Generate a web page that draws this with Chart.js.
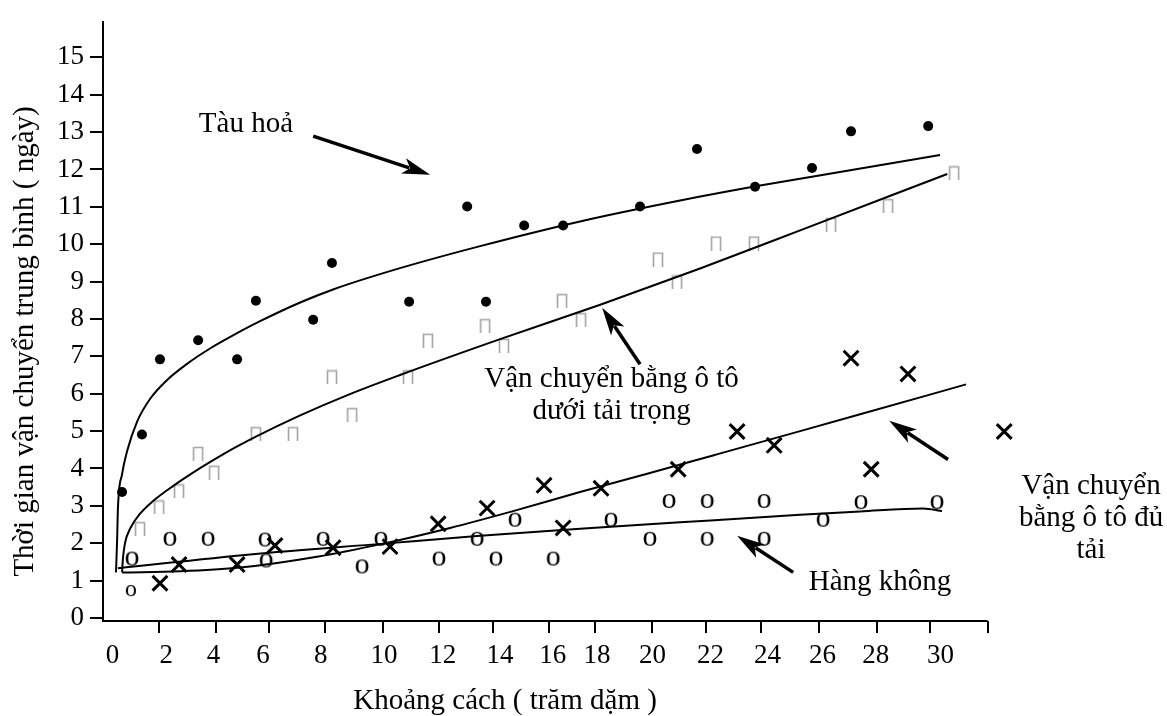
<!DOCTYPE html>
<html>
<head>
<meta charset="utf-8">
<script src="https://cdn.jsdelivr.net/npm/chart.js@4.4.1/dist/chart.umd.min.js"></script>
<style>
  html, body { margin: 0; padding: 0; background: #fff; }
</style>
</head>
<body>
<canvas id="chart" width="1167" height="716"></canvas>
<script>
const serif = '"Liberation Serif", "Times New Roman", serif'

// measured points: [distance (hundred miles), days]
const trainPts = [[0.40,3.37],[1.12,4.91],[1.77,6.92],[3.15,7.43],[4.56,6.92],[5.24,8.49],[7.31,7.98],[7.99,9.50],[10.78,8.46],[12.88,11.01],[13.56,8.46],[14.94,10.50],[16.35,10.50],[19.13,11.01],[21.19,12.55],[23.29,11.54],[25.35,12.04],[26.76,13.02],[29.55,13.16]]
const ltlPts = [[1.05,2.39],[1.74,2.97],[2.46,3.40],[3.15,4.40],[3.73,3.90],[5.24,4.93],[6.58,4.93],[7.99,6.45],[8.72,5.44],[10.74,6.45],[11.46,7.43],[13.53,7.82],[14.21,7.29],[16.31,8.49],[17.00,7.98],[19.78,9.60],[20.47,8.99],[21.88,10.03],[23.25,10.03],[26.04,10.53],[28.10,11.03],[30.49,11.91]]
const tlPts = [[1.77,0.93],[2.46,1.43],[4.56,1.43],[5.93,1.94],[8.03,1.88],[10.09,1.91],[11.83,2.52],[13.60,2.94],[15.66,3.55],[16.35,2.41],[17.72,3.47],[20.51,3.98],[22.64,4.99],[23.98,4.62],[26.76,6.95],[27.49,3.98],[28.82,6.53],[32.30,4.99]]
const airPts = [[0.72,0.72],[0.76,1.59],[2.13,2.12],[3.51,2.12],[5.57,2.10],[5.61,1.54],[7.67,2.12],[9.08,1.38],[9.76,2.12],[11.86,1.59],[13.24,2.12],[13.92,1.59],[14.61,2.63],[15.99,1.59],[18.08,2.63],[19.49,2.12],[20.18,3.13],[21.56,3.13],[21.56,2.12],[23.62,3.13],[23.62,2.12],[25.75,2.63],[27.12,3.10],[29.87,3.10]]

// fitted curves
const trainFit = [[0.18,1.22],[0.22,2.07],[0.25,2.94],[0.40,3.85],[0.58,4.46],[0.94,5.25],[1.41,5.86],[2.03,6.37],[2.75,6.80],[3.58,7.21],[4.41,7.56],[5.39,7.94],[6.84,8.44],[8.03,8.79],[10.45,9.36],[13.35,9.95],[16.96,10.61],[20.58,11.17],[23.47,11.57],[26.73,11.98],[29.98,12.39]]
const ltlFit = [[0.40,1.22],[0.43,1.59],[0.51,2.02],[0.69,2.39],[1.05,2.79],[1.52,3.13],[2.24,3.53],[3.22,4.01],[4.05,4.38],[5.24,4.85],[6.84,5.42],[8.64,5.99],[10.45,6.50],[14.07,7.46],[17.69,8.38],[21.30,9.35],[24.92,10.37],[30.24,11.88]]
const tlFit = [[0.40,1.22],[2.50,1.25],[4.67,1.35],[7.45,1.64],[9.84,1.99],[12.26,2.41],[14.54,2.86],[16.96,3.37],[19.39,3.86],[21.77,4.35],[24.92,5.00],[27.09,5.45],[30.92,6.25]]
const airFit = [[0.25,1.33],[5.03,1.70],[9.84,1.99],[13.35,2.20],[16.96,2.39],[20.58,2.56],[24.92,2.76],[27.09,2.85],[29.37,2.93],[30.05,2.86]]

const yTicks = [0,1,2,3,4,5,6,7,8,9,10,11,12,13,14,15]
const xTickLabels = ['0','2','4','6','8','10','12','14','16','18','20','22','24','26','28','30']
// the printed labels sit a little unevenly along the axis
const xTickAt = [0.05,2.0,3.71,5.5,7.58,9.87,12.0,14.07,15.97,17.57,19.58,21.68,23.74,25.73,27.65,30.0]
const xTickMarks = [1.74,3.8,5.71,7.74,9.84,11.86,13.8,15.84,17.5,19.57,21.5,23.5,25.6,27.7,29.6,31.7]
const xAxisEnd = 31.7

const toXY = pts => pts.map(p => ({ x: p[0], y: p[1] }))

function glyph(w, h, draw) {
  const c = document.createElement('canvas')
  c.width = w; c.height = h
  draw(c.getContext('2d'), w, h)
  return c
}
// grey open box (missing-glyph look)
const boxMark = glyph(12, 15, (g, w, h) => {
  g.strokeStyle = '#a3a3a3'; g.lineWidth = 1.6
  g.beginPath(); g.moveTo(1.5, h); g.lineTo(1.5, 1.5); g.lineTo(w - 1.5, 1.5); g.lineTo(w - 1.5, h); g.stroke()
})
const oMark = (size) => glyph(24, 24, (g, w, h) => {
  g.font = size + 'px ' + serif; g.fillStyle = '#000'
  g.textAlign = 'center'; g.textBaseline = 'alphabetic'
  g.fillText('o', w / 2, h / 2 + size * 0.225)
})
const oBig = oMark(30)
const oSmall = oMark(24)

const fitLine = (pts) => ({
  data: toXY(pts), showLine: true, pointRadius: 0, borderColor: '#000', borderWidth: 2,
  cubicInterpolationMode: 'monotone', fill: false
})

const notes = [
  { text: ['Tàu hoả'], at: [4.88, 13.0] },
  { text: ['Vận chuyển bằng ô tô', 'dưới tải trọng'], at: [18.1, 6.18] },
  { text: ['Vận chuyển', 'bằng ô tô đủ', 'tải'], at: [35.44, 3.32] },
  { text: ['Hàng không'], at: [27.81, 0.74] }
]
const arrows = [
  { from: [7.31, 12.89], to: [11.54, 11.86] },
  { from: [19.13, 6.79], to: [17.76, 8.30] },
  { from: [30.27, 4.24], to: [28.14, 5.28] },
  { from: [24.67, 1.22], to: [22.64, 2.20] }
]

function drawArrow(ctx, x1, y1, x2, y2) {
  const a = Math.atan2(y2 - y1, x2 - x1), len = 28, half = 8
  const c = Math.cos(a), s = Math.sin(a)
  const bx = x2 - len * c, by = y2 - len * s
  ctx.lineWidth = 3.5
  ctx.beginPath(); ctx.moveTo(x1, y1); ctx.lineTo(bx + 6 * c, by + 6 * s); ctx.stroke()
  ctx.beginPath()
  ctx.moveTo(x2, y2)
  ctx.lineTo(bx + half * s, by - half * c)
  ctx.lineTo(bx + 7 * c, by + 7 * s)
  ctx.lineTo(bx - half * s, by + half * c)
  ctx.closePath(); ctx.fill()
}

const annotate = {
  id: 'annotate',
  afterDraw(chart) {
    const { ctx, chartArea, scales: { x, y } } = chart
    ctx.save()
    ctx.strokeStyle = '#000'; ctx.fillStyle = '#000'; ctx.lineCap = 'butt'

    // x axis stops before the right edge of the plot
    ctx.lineWidth = 2
    ctx.beginPath()
    ctx.moveTo(chartArea.left - 1, chartArea.bottom)
    ctx.lineTo(x.getPixelForValue(xAxisEnd), chartArea.bottom)
    ctx.stroke()
    for (const v of xTickMarks) {
      const px = Math.round(x.getPixelForValue(v))
      ctx.beginPath(); ctx.moveTo(px, chartArea.bottom); ctx.lineTo(px, chartArea.bottom + 12); ctx.stroke()
    }

    ctx.font = '29px ' + serif
    ctx.textAlign = 'center'; ctx.textBaseline = 'alphabetic'
    for (const n of notes) {
      const px = x.getPixelForValue(n.at[0]), py = y.getPixelForValue(n.at[1])
      n.text.forEach((t, i) => ctx.fillText(t, px, py + i * 32))
    }
    for (const a of arrows) {
      drawArrow(ctx, x.getPixelForValue(a.from[0]), y.getPixelForValue(a.from[1]),
        x.getPixelForValue(a.to[0]), y.getPixelForValue(a.to[1]))
    }

    // axis titles
    ctx.fillText('Khoảng cách ( trăm dặm )', x.getPixelForValue(14.25), chartArea.bottom + 88)
    ctx.translate(chartArea.left - 70, y.getPixelForValue(7.40))
    ctx.rotate(-Math.PI / 2)
    ctx.fillText('Thời gian vận chuyển trung bình ( ngày)', 0, 0)
    ctx.restore()
  }
}

Chart.defaults.font.family = serif
Chart.defaults.color = '#000'

const chart = new Chart(document.getElementById('chart'), {
  type: 'scatter',
  data: {
    datasets: [
      fitLine(trainFit), fitLine(ltlFit), fitLine(tlFit), fitLine(airFit),
      { label: 'Tàu hoả', data: toXY(trainPts), pointStyle: 'circle', pointRadius: 5,
        backgroundColor: '#000', borderColor: '#000', borderWidth: 0 },
      { label: 'Vận chuyển bằng ô tô dưới tải trọng', data: toXY(ltlPts), pointStyle: boxMark, pointRadius: 6 },
      { label: 'Vận chuyển bằng ô tô đủ tải', data: toXY(tlPts), pointStyle: 'crossRot', pointRadius: 10.5,
        borderColor: '#000', borderWidth: 3 },
      { label: 'Hàng không', data: toXY(airPts), pointRadius: 7,
        pointStyle: (c) => c.dataIndex === 0 ? oSmall : oBig }
    ]
  },
  options: {
    responsive: false,
    animation: false,
    events: [],
    layout: { padding: { top: 17, right: 152, bottom: 0, left: 0 } },
    plugins: { legend: { display: false }, tooltip: { enabled: false } },
    scales: {
      x: {
        type: 'linear', min: -0.29, max: 32.69,
        afterBuildTicks: (s) => { s.ticks = xTickAt.map(v => ({ value: v })) },
        afterFit: (s) => { s.height = 95 },
        grid: { display: false, drawTicks: false },
        border: { display: false },
        ticks: { autoSkip: false, maxRotation: 0, padding: 19, font: { size: 27 },
          callback: (v, i) => xTickLabels[i] }
      },
      y: {
        type: 'linear', min: -0.08, max: 15.94,
        afterBuildTicks: (s) => { s.ticks = yTicks.map(v => ({ value: v })) },
        afterFit: (s) => { s.width = 103 },
        grid: { drawOnChartArea: false, drawTicks: true, tickLength: 13, lineWidth: 2, color: '#000' },
        border: { display: true, width: 2, color: '#000' },
        ticks: { padding: 6, font: { size: 27 } }
      }
    }
  },
  plugins: [annotate]
})
</script>
</body>
</html>
